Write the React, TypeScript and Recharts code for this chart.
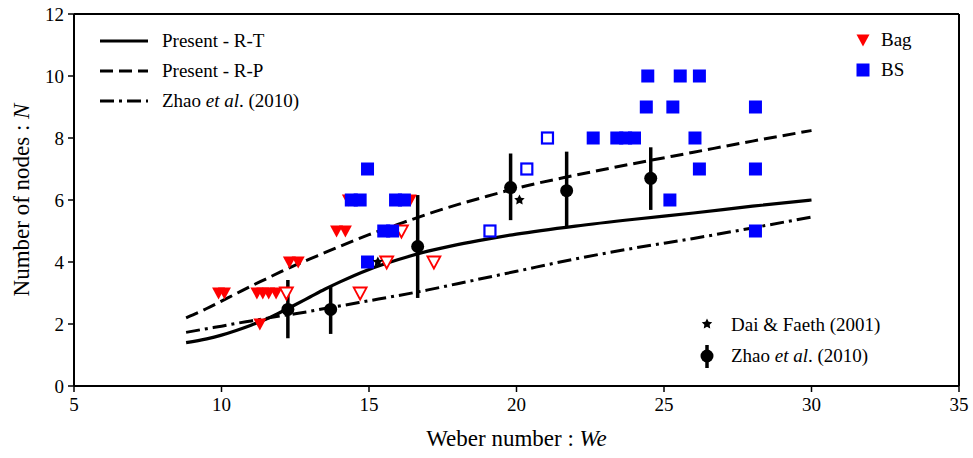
import React from "react"
import {
  ComposedChart,
  ErrorBar,
  Line,
  ReferenceLine,
  Scatter,
  XAxis,
  YAxis,
} from "recharts"

// model curves (Weber number vs number of nodes)
const curveWe = [8.8, 9.5, 10, 10.5, 11, 11.5, 12, 12.5, 13, 13.5, 14, 15, 16, 17, 18, 19, 20, 22, 24, 26, 28, 30]
const presentRT = [1.4, 1.52, 1.64, 1.79, 1.96, 2.15, 2.38, 2.62, 2.87, 3.12, 3.35, 3.76, 4.08, 4.35, 4.56, 4.74, 4.9, 5.16, 5.38, 5.58, 5.8, 6.0]
const presentRP = [2.2, 2.5, 2.74, 2.98, 3.22, 3.45, 3.68, 3.9, 4.1, 4.3, 4.5, 4.88, 5.22, 5.55, 5.85, 6.12, 6.38, 6.8, 7.18, 7.54, 7.9, 8.24]
const zhaoModel = [1.73, 1.85, 1.93, 2.02, 2.1, 2.18, 2.26, 2.33, 2.41, 2.5, 2.58, 2.75, 2.92, 3.1, 3.3, 3.5, 3.7, 4.1, 4.45, 4.76, 5.1, 5.45]

// bag breakup (filled / open triangles)
const bagWe = [9.9, 10.1, 11.2, 11.4, 11.6, 11.85, 11.3, 12.3, 12.6, 13.9, 14.2, 14.3, 14.5, 16.4]
const bagN = [3, 3, 3, 3, 3, 3, 2, 4, 4, 5, 5, 6, 6, 6]
const bagOpenWe = [12.2, 14.7, 15.6, 16.1, 17.2]
const bagOpenN = [3, 3, 4, 5, 4]

// bag-and-stamen (filled / open squares)
const bsWe = [14.4, 14.7, 14.95, 14.95, 15.5, 15.8, 15.9, 16.2, 22.6, 23.4, 23.7, 24.0, 26.05, 24.45, 25.55, 26.2, 24.4, 25.3, 28.1, 26.2, 28.1, 25.2, 28.1]
const bsN = [6, 6, 7, 4, 5, 5, 6, 6, 8, 8, 8, 8, 8, 10, 10, 10, 9, 9, 9, 7, 7, 6, 5]
const bsOpenWe = [19.1, 20.35, 21.05]
const bsOpenN = [5, 7, 8]

// Dai & Faeth (2001)
const daiWe = [15.3, 20.1]
const daiN = [4, 6]

// Zhao et al. (2010) measurements with spread
const zhaoWe = [12.25, 13.7, 16.65, 19.8, 21.7, 24.55]
const zhaoN = [2.47, 2.47, 4.5, 6.4, 6.3, 6.7]
const zhaoLow = [1.54, 1.68, 2.84, 5.35, 5.14, 5.68]
const zhaoHigh = [3.42, 3.2, 6.16, 7.5, 7.56, 7.7]

const xTicks = [5, 10, 15, 20, 25, 30, 35]
const yTicks = [0, 2, 4, 6, 8, 10, 12]

const pts = (xs: number[], ys: number[]) => xs.map((x, i) => ({ x, y: ys[i] }))

const rtData = pts(curveWe, presentRT)
const rpData = pts(curveWe, presentRP)
const zhaoLine = pts(curveWe, zhaoModel)
const bagData = pts(bagWe, bagN)
const bagOpenData = pts(bagOpenWe, bagOpenN)
const bsData = pts(bsWe, bsN)
const bsOpenData = pts(bsOpenWe, bsOpenN)
const daiData = pts(daiWe, daiN)
const zhaoData = zhaoWe.map((x, i) => ({
  x,
  y: zhaoN[i],
  err: [zhaoN[i] - zhaoLow[i], zhaoHigh[i] - zhaoN[i]],
}))

const FONT = "Liberation Serif, Tinos, DejaVu Serif, serif"
const RED = "#ff0000"
const BLUE = "#0000ff"

const Tri = ({ cx, cy, open }: any) => (
  <path
    d={`M${cx - 6.5},${cy - 5.5} L${cx + 6.5},${cy - 5.5} L${cx},${cy + 6.5} Z`}
    fill={open ? "#fff" : RED}
    stroke={RED}
    strokeWidth={open ? 1.8 : 0}
  />
)

const Sq = ({ cx, cy, open }: any) =>
  open ? (
    <rect x={cx - 5.5} y={cy - 5.5} width={11} height={11} fill="#fff" stroke={BLUE} strokeWidth={2.2} />
  ) : (
    <rect x={cx - 6.5} y={cy - 6.5} width={13} height={13} fill={BLUE} />
  )

const starPath = (cx: number, cy: number, r: number) => {
  let d = ""
  for (let i = 0; i < 10; i++) {
    const a = (Math.PI / 5) * i - Math.PI / 2
    const rr = i % 2 === 0 ? r : r * 0.5
    d += `${i === 0 ? "M" : "L"}${cx + rr * Math.cos(a)},${cy + rr * Math.sin(a)}`
  }
  return d + "Z"
}

const Star = ({ cx, cy }: any) => <path d={starPath(cx, cy, 5.5)} fill="#000" />
const Dot = ({ cx, cy }: any) => <circle cx={cx} cy={cy} r={6.5} fill="#000" />

const tickStyle = { fill: "#000", fontSize: 19, fontFamily: FONT }

const XLabel = ({ viewBox }: any) => (
  <text x={viewBox.x + viewBox.width / 2} y={446} textAnchor="middle" style={{ fontFamily: FONT }} fontSize={23} fill="#000">
    Weber number : <tspan fontStyle="italic">We</tspan>
  </text>
)

const YLabel = ({ viewBox }: any) => {
  const cy = viewBox.y + viewBox.height / 2
  return (
    <text x={29} y={cy} transform={`rotate(-90 29 ${cy})`} textAnchor="middle" style={{ fontFamily: FONT }} fontSize={23} fill="#000">
      Number of nodes : <tspan fontStyle="italic">N</tspan>
    </text>
  )
}

const legendText: React.CSSProperties = {
  position: "absolute",
  fontFamily: FONT,
  fontSize: 19,
  color: "#000",
  whiteSpace: "nowrap",
  lineHeight: "20px",
}

export default function App() {
  return (
    <div style={{ position: "absolute", left: 0, top: 0, width: 973, height: 458, background: "#fff", fontFamily: FONT }}>
      <ComposedChart width={973} height={458} margin={{ top: 14, right: 14, bottom: 22, left: 0 }} style={{ fontFamily: FONT }}>
        <XAxis
          type="number"
          dataKey="x"
          domain={[5, 35]}
          ticks={xTicks}
          allowDataOverflow
          height={50}
          tick={tickStyle}
          tickSize={6}
          tickMargin={6}
          tickLine={{ stroke: "#000", strokeWidth: 1.5 }}
          axisLine={{ stroke: "#000", strokeWidth: 2 }}
          label={<XLabel />}
        />
        <YAxis
          type="number"
          dataKey="y"
          domain={[0, 12]}
          ticks={yTicks}
          allowDataOverflow
          width={74}
          tick={tickStyle}
          tickSize={6}
          tickMargin={4}
          tickLine={{ stroke: "#000", strokeWidth: 1.5 }}
          axisLine={{ stroke: "#000", strokeWidth: 2 }}
          label={<YLabel />}
        />
        <ReferenceLine y={12} stroke="#000" strokeWidth={2} />
        <ReferenceLine x={35} stroke="#000" strokeWidth={2} />

        <Line data={zhaoLine} dataKey="y" type="monotone" stroke="#000" strokeWidth={3} strokeDasharray="14 5 3 5" dot={false} isAnimationActive={false} />
        <Line data={rpData} dataKey="y" type="monotone" stroke="#000" strokeWidth={3} strokeDasharray="13 6" dot={false} isAnimationActive={false} />
        <Line data={rtData} dataKey="y" type="monotone" stroke="#000" strokeWidth={3.2} dot={false} isAnimationActive={false} />

        <Scatter data={bagData} dataKey="y" shape={(p: any) => <Tri {...p} />} isAnimationActive={false} />
        <Scatter data={bagOpenData} dataKey="y" shape={(p: any) => <Tri {...p} open />} isAnimationActive={false} />
        <Scatter data={bsData} dataKey="y" shape={(p: any) => <Sq {...p} />} isAnimationActive={false} />
        <Scatter data={bsOpenData} dataKey="y" shape={(p: any) => <Sq {...p} open />} isAnimationActive={false} />
        <Scatter data={daiData} dataKey="y" shape={(p: any) => <Star {...p} />} isAnimationActive={false} />
        <Scatter data={zhaoData} dataKey="y" shape={(p: any) => <Dot {...p} />} isAnimationActive={false}>
          <ErrorBar dataKey="err" direction="y" width={0} stroke="#000" strokeWidth={3.5} />
        </Scatter>
      </ComposedChart>

      {/* top-left legend: model curves */}
      <svg style={{ position: "absolute", left: 96, top: 30 }} width={60} height={80}>
        <line x1={4} x2={52} y1={11} y2={11} stroke="#000" strokeWidth={3.2} />
        <line x1={4} x2={52} y1={41} y2={41} stroke="#000" strokeWidth={3} strokeDasharray="13 6" />
        <line x1={4} x2={52} y1={71} y2={71} stroke="#000" strokeWidth={3} strokeDasharray="14 5 3 5" />
      </svg>
      <div style={{ ...legendText, left: 162, top: 31 }}>Present - R-T</div>
      <div style={{ ...legendText, left: 162, top: 61 }}>Present - R-P</div>
      <div style={{ ...legendText, left: 162, top: 91 }}>
        Zhao <i>et al</i>. (2010)
      </div>

      {/* top-right legend: breakup modes */}
      <svg style={{ position: "absolute", left: 852, top: 28 }} width={24} height={56}>
        <Tri cx={11} cy={12} />
        <Sq cx={11} cy={42} />
      </svg>
      <div style={{ ...legendText, left: 881, top: 30 }}>Bag</div>
      <div style={{ ...legendText, left: 881, top: 60 }}>BS</div>

      {/* bottom-right legend: experiments */}
      <svg style={{ position: "absolute", left: 696, top: 312 }} width={24} height={60}>
        <path d={starPath(11, 12, 5.5)} fill="#000" />
        <line x1={11} x2={11} y1={33} y2={56} stroke="#000" strokeWidth={3.5} />
        <circle cx={11} cy={44} r={6.5} fill="#000" />
      </svg>
      <div style={{ ...legendText, left: 731, top: 315 }}>Dai &amp; Faeth (2001)</div>
      <div style={{ ...legendText, left: 731, top: 346 }}>
        Zhao <i>et al</i>. (2010)
      </div>
    </div>
  )
}
